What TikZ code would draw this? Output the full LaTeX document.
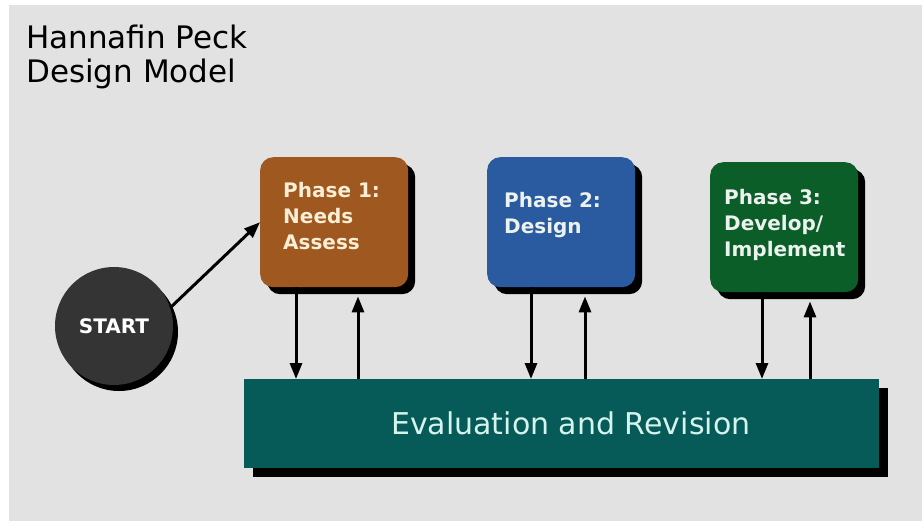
\documentclass[tikz,border=0pt]{standalone}
\usepackage{fontspec}
\setmainfont{DejaVu Sans}
\usetikzlibrary{calc,arrows.meta,shadows}
\definecolor{panelgray}{RGB}{226,226,226}
\definecolor{startgray}{RGB}{52,52,52}
\definecolor{phasebrown}{RGB}{158,88,32}
\definecolor{phaseblue}{RGB}{42,90,160}
\definecolor{phasegreen}{RGB}{12,94,40}
\definecolor{evalteal}{RGB}{6,90,88}
\definecolor{creamtext}{RGB}{250,238,212}
\definecolor{paletext}{RGB}{236,242,238}
\definecolor{evaltext}{RGB}{214,244,238}
\tikzset{
  phasebox/.style={anchor=north west,rounded corners=13pt,minimum width=148pt,minimum height=130pt,
    general shadow={fill=black,shadow xshift=7pt,shadow yshift=-7pt}},
  phasetext/.style={anchor=north west,inner sep=0pt,align=left,text=paletext,
    font=\fontsize{20}{26}\selectfont\bfseries},
  flow/.style={line width=3pt,-{Triangle[width=12pt,length=16pt]}},
}

\begin{document}
\begin{tikzpicture}[x=1pt,y=-1pt]
    \useasboundingbox (0,0) rectangle (922,523);
    \fill[white] (0,0) rectangle (922,523);
    \fill[panelgray] (9,5) rectangle (922,521);
    \node[anchor=north west,inner sep=0pt,align=left,font=\fontsize{31}{34}\selectfont] (title) at (26,25) {Hannafin Peck\\Design Model};
    \node[circle,fill=startgray,minimum size=118pt,inner sep=0pt,text=white,font=\fontsize{20}{24}\selectfont\bfseries,
        general shadow={fill=black,shadow xshift=5pt,shadow yshift=-6pt}] (start) at (114,326) {START};
    \node[phasebox,fill=phasebrown] (p1) at (260,157) {};
    \node[phasebox,fill=phaseblue] (p2) at (487,157) {};
    \node[phasebox,fill=phasegreen] (p3) at (710,162) {};
    \node[phasetext,text=creamtext] (t1) at ([xshift=23pt,yshift=-25pt]p1.north west) {Phase 1:\\Needs\\Assess};
    \node[phasetext] (t2) at ([xshift=17pt,yshift=-35pt]p2.north west) {Phase 2:\\Design};
    \node[phasetext] (t3) at ([xshift=14pt,yshift=-27pt]p3.north west) {Phase 3:\\Develop/\\Implement};
    \node[anchor=north west,fill=evalteal,minimum width=635pt,minimum height=89pt,text=evaltext,font=\fontsize{30}{36}\selectfont,
        general shadow={fill=black,shadow xshift=9pt,shadow yshift=-9pt}] (ev) at (244,379) {\hspace*{18pt}Evaluation and Revision};
    \draw[flow] (start.18) -- (p1.west);
    \foreach \b/\d/\u in {p1/36/98,p2/44/98,p3/52/100}{
        \coordinate (\b d) at ([xshift=\d pt]\b.south west);
        \coordinate (\b u) at ([xshift=\u pt,yshift=-9pt]\b.south west);
        \draw[flow] (\b d) -- (\b d |- ev.north);
        \draw[flow] (\b u |- ev.north) -- (\b u);
    }
\end{tikzpicture}
\end{document}
